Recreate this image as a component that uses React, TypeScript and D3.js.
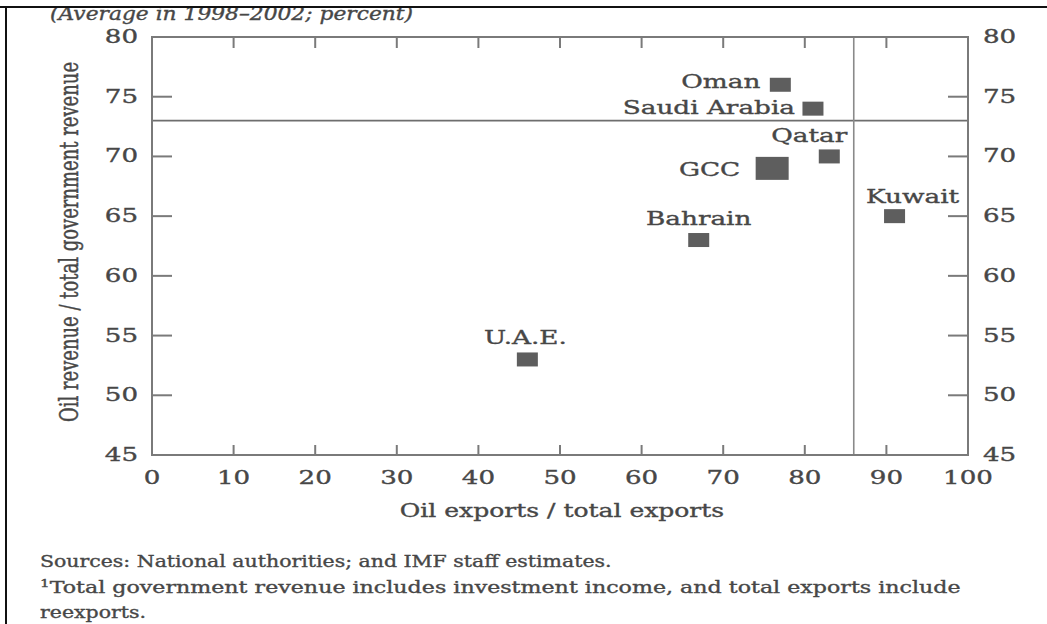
import React from "react";
import * as d3 from "d3";

const countries = ["Oman", "Saudi Arabia", "Qatar", "GCC", "Kuwait", "Bahrain", "U.A.E."];
const oilExportShare = [77, 81, 83, 76, 91, 67, 46];
const oilRevenueShare = [76, 74, 70, 69, 65, 63, 53];
const isAggregate = [false, false, false, true, false, false, false];

const xTicks = [0, 10, 20, 30, 40, 50, 60, 70, 80, 90, 100];
const yTicks = [45, 50, 55, 60, 65, 70, 75, 80];
const revenueThreshold = 73;
const exportThreshold = 86;

const subtitle = "(Average in 1998\u20132002; percent)";
const xTitle = "Oil exports / total exports";
const yTitle = "Oil revenue / total government revenue";
const sourceNote = "Sources: National authorities; and IMF staff estimates.";
const footnoteLine1 = "Total government revenue includes investment income, and total exports include";
const footnoteLine2 = "reexports.";

// label placement relative to marker centre (layout only)
const labelPlacement: Record<string, { dx: number; dy: number; anchor: string }> = {
  Oman: { dx: -20, dy: 3, anchor: "end" },
  "Saudi Arabia": { dx: -18, dy: 5, anchor: "end" },
  Qatar: { dx: 18, dy: -14, anchor: "end" },
  GCC: { dx: -32, dy: 8, anchor: "end" },
  Kuwait: { dx: 18, dy: -13, anchor: "middle" },
  Bahrain: { dx: 0, dy: -15, anchor: "middle" },
  "U.A.E.": { dx: -2, dy: -15, anchor: "middle" },
};

const W = 1047;
const H = 624;
const M = { left: 152, right: 968, top: 37, bottom: 455 };
const FONT = "'DejaVu Serif', serif";
const TXT = "#474747";
const AX = "#7a7a7a";

function T(props: {
  x: number; y: number; anchor?: string; size?: number; rotate?: number;
  italic?: boolean; fill?: string; children: React.ReactNode; sx?: number; sw?: number;
}) {
  const { x, y, anchor = "start", size = 19, rotate = 0, italic, fill = TXT, children, sx = 1.3, sw = 0.35 } = props;
  return (
    <text
      transform={`translate(${x},${y}) scale(${sx},1)${rotate ? ` rotate(${rotate})` : ""}`}
      textAnchor={anchor as any}
      fontSize={size}
      fontFamily={FONT}
      fontStyle={italic ? "italic" : "normal"}
      fill={fill}
      stroke={fill}
      strokeWidth={sw}
    >
      {children}
    </text>
  );
}

export default function App() {
  const x = d3.scaleLinear().domain([0, 100]).range([M.left, M.right]);
  const y = d3.scaleLinear().domain([45, 80]).range([M.bottom, M.top]);
  const inner = (v: number, arr: number[]) => v !== arr[0] && v !== arr[arr.length - 1];

  return (
    <svg width={W} height={H} style={{ position: "absolute", left: 0, top: 0, background: "#fff" }}>
      <rect x={0} y={0} width={W} height={H} fill="#fff" />
      {/* subtitle, clipped by frame */}
      <T x={50} y={20} size={18} italic sx={1.21}>{subtitle}</T>
      <rect x={0} y={0} width={W} height={6.5} fill="#fff" />
      <line x1={0} x2={W} y1={7} y2={7} stroke="#111" strokeWidth={2} />
      <line x1={6} x2={6} y1={6} y2={H} stroke="#111" strokeWidth={2} />

      {/* reference lines */}
      <line x1={M.left} x2={M.right} y1={y(revenueThreshold)} y2={y(revenueThreshold)} stroke="#6e6e6e" strokeWidth={1.6} />
      <line x1={x(exportThreshold)} x2={x(exportThreshold)} y1={M.top} y2={M.bottom} stroke="#8a8a8a" strokeWidth={1.6} />

      {/* frame */}
      <rect x={M.left} y={M.top} width={M.right - M.left} height={M.bottom - M.top} fill="none" stroke={AX} strokeWidth={2} />

      {/* ticks */}
      {xTicks.filter((t) => inner(t, xTicks)).map((t) => (
        <g key={"xt" + t}>
          <line x1={x(t)} x2={x(t)} y1={M.top} y2={M.top + 11} stroke={AX} strokeWidth={2} />
          <line x1={x(t)} x2={x(t)} y1={M.bottom} y2={M.bottom - 10} stroke={AX} strokeWidth={2} />
        </g>
      ))}
      {yTicks.filter((t) => inner(t, yTicks)).map((t) => (
        <g key={"yt" + t}>
          <line x1={M.left} x2={M.left + 20} y1={y(t)} y2={y(t)} stroke={AX} strokeWidth={2} />
          <line x1={M.right} x2={M.right - 20} y1={y(t)} y2={y(t)} stroke={AX} strokeWidth={2} />
        </g>
      ))}

      {/* tick labels */}
      {xTicks.map((t) => (
        <T key={"xl" + t} x={x(t)} y={484} anchor="middle" size={18} sx={1.45}>{t}</T>
      ))}
      {yTicks.map((t) => (
        <g key={"yl" + t}>
          <T x={138} y={y(t) + 6} anchor="end" size={18} sx={1.45}>{t}</T>
          <T x={983} y={y(t) + 6} anchor="start" size={18} sx={1.45}>{t}</T>
        </g>
      ))}

      {/* axis titles */}
      <T x={562} y={517} anchor="middle" size={18} sx={1.39}>{xTitle}</T>
      <T x={78} y={242} anchor="middle" size={18} rotate={-90} sx={1.4}>{yTitle}</T>

      {/* markers */}
      {countries.map((c, i) => {
        const cx = x(oilExportShare[i]);
        const cy = y(oilRevenueShare[i]);
        const w = isAggregate[i] ? 33 : 21;
        const h = isAggregate[i] ? 23 : 14;
        const p = labelPlacement[c];
        return (
          <g key={c}>
            <rect x={cx - w / 2} y={cy - h / 2} width={w} height={h} fill="#5e5e5e" />
            <T x={cx + p.dx} y={cy + p.dy} anchor={p.anchor} size={18} sx={1.46}>{c}</T>
          </g>
        );
      })}

      {/* notes */}
      <T x={40} y={567} size={16} sx={1.28}>{sourceNote}</T>
      <text transform={`translate(40,593) scale(1.385,1)`} fontSize={16} fontFamily={FONT} fill={TXT} stroke={TXT} strokeWidth={0.35}>
        <tspan fontSize={11} dy={-6}>1</tspan>
        <tspan dy={6}>{footnoteLine1}</tspan>
      </text>
      <T x={40} y={618} size={16} sx={1.28}>{footnoteLine2}</T>
    </svg>
  );
}
